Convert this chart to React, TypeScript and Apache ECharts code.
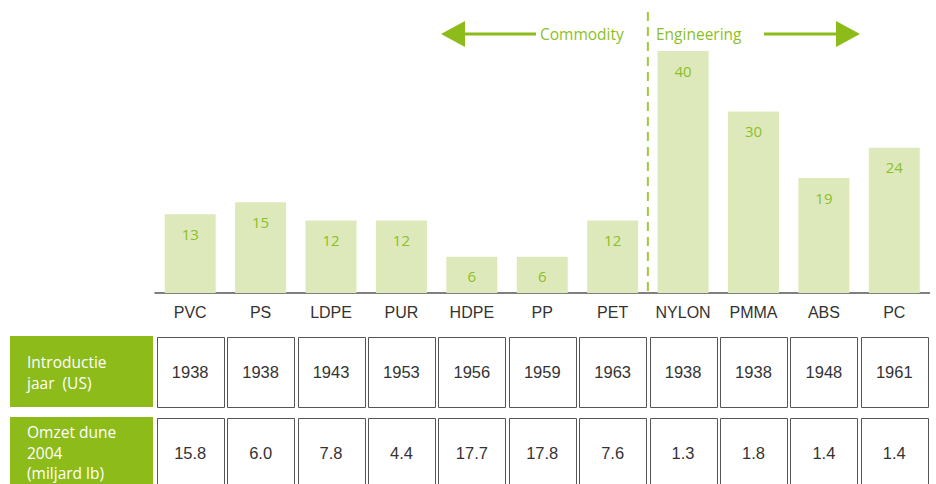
import React, { useEffect, useRef } from "react";
import * as echarts from "echarts";

const categories = ["PVC", "PS", "LDPE", "PUR", "HDPE", "PP", "PET", "NYLON", "PMMA", "ABS", "PC"];
const values = [13, 15, 12, 12, 6, 6, 12, 40, 30, 19, 24];
const introYear = ["1938", "1938", "1943", "1953", "1956", "1959", "1963", "1938", "1938", "1948", "1961"];
const revenue2004 = ["15.8", "6.0", "7.8", "4.4", "17.7", "17.8", "7.6", "1.3", "1.8", "1.4", "1.4"];
const rowHeaders = ["Introductie\njaar  (US)", "Omzet dune\n2004\n(miljard lb)"];
const groupLabels = ["Commodity", "Engineering"];

const GREEN = "#8dbb1a";
const BAR = "#dde9bb";
const LABEL = "#8cbf26";
const SANS = "'Open Sans', 'Noto Sans', sans-serif";
const HELV = "'Liberation Sans', Arial, sans-serif";

export default function App() {
  const ref = useRef<HTMLDivElement>(null);
  useEffect(() => {
    if (!ref.current) return;
    const chart = echarts.init(ref.current, null, { renderer: "svg" });
    chart.setOption({
      animation: false,
      grid: { left: 155, right: 6.5, top: 51, bottom: 191, containLabel: false },
      xAxis: {
        type: "category",
        data: categories,
        axisTick: { show: false },
        axisLine: { lineStyle: { color: "#555", width: 1.5 } },
        axisLabel: { color: "#333", fontSize: 16, fontFamily: HELV, margin: 11, interval: 0 },
      },
      yAxis: { type: "value", min: 0, max: 40, show: false, splitLine: { show: false } },
      series: [
        {
          type: "bar",
          data: values,
          barWidth: 51,
          itemStyle: { color: BAR },
          label: {
            show: true,
            position: "insideTop",
            distance: 12,
            color: LABEL,
            fontSize: 15,
            fontFamily: SANS,
          },
        },
      ],
    });

    const cx = categories.map((c) => chart.convertToPixel({ xAxisIndex: 0 }, c) as number);
    const divX = (cx[6] + cx[7]) / 2;
    const baseY = chart.convertToPixel({ yAxisIndex: 0 }, 0) as number;

    const graphics: any[] = [];
    graphics.push({
      type: "line",
      shape: { x1: divX, y1: 12, x2: divX, y2: baseY },
      style: { stroke: "#a3c83a", lineWidth: 2, lineDash: [9, 6] },
      z: 1,
    });
    graphics.push({ type: "polygon", shape: { points: [[441, 34], [465, 21], [465, 47]] }, style: { fill: GREEN } });
    graphics.push({ type: "line", shape: { x1: 463, y1: 34, x2: 536, y2: 34 }, style: { stroke: GREEN, lineWidth: 3 } });
    graphics.push({
      type: "text",
      x: 540,
      y: 34,
      style: { text: groupLabels[0], fill: LABEL, fontSize: 15.5, fontFamily: SANS, verticalAlign: "middle", align: "left" },
    });
    graphics.push({
      type: "text",
      x: 656,
      y: 34,
      style: { text: groupLabels[1], fill: LABEL, fontSize: 15.5, fontFamily: SANS, verticalAlign: "middle", align: "left" },
    });
    graphics.push({ type: "line", shape: { x1: 764, y1: 34, x2: 838, y2: 34 }, style: { stroke: GREEN, lineWidth: 3 } });
    graphics.push({ type: "polygon", shape: { points: [[860, 34], [836, 21], [836, 47]] }, style: { fill: GREEN } });

    const rows = [
      { y: 336, h: 71, data: introYear },
      { y: 417, h: 80, data: revenue2004 },
    ];
    const cellW = 67;
    rows.forEach((r, ri) => {
      graphics.push({
        type: "rect",
        shape: { x: 10, y: r.y, width: 143, height: r.h },
        style: { fill: GREEN },
      });
      const lines = rowHeaders[ri].split("\n");
      const lh = 20.5;
      const startY = ri === 0 ? 362 : 432;
      lines.forEach((t, li) => {
        graphics.push({
          type: "text",
          x: 27,
          y: startY + li * lh,
          style: { text: t, fill: "#fff", fontSize: 15.5, fontFamily: SANS, verticalAlign: "middle", align: "left" },
        });
      });
      r.data.forEach((v, i) => {
        graphics.push({
          type: "rect",
          shape: { x: Math.round(cx[i] - cellW / 2) + 0.5, y: r.y + 1.5, width: cellW, height: r.h - 1 },
          style: { fill: "#fff", stroke: "#555", lineWidth: 1 },
        });
        graphics.push({
          type: "text",
          x: cx[i],
          y: ri === 0 ? 372 : 453,
          style: { text: v, fill: "#333", fontSize: 16.5, fontFamily: HELV, verticalAlign: "middle", align: "center" },
        });
      });
    });
    chart.setOption({ graphic: graphics });

    return () => chart.dispose();
  }, []);
  return <div ref={ref} style={{ width: 936, height: 484, position: "absolute", left: 0, top: 0 }} />;
}
